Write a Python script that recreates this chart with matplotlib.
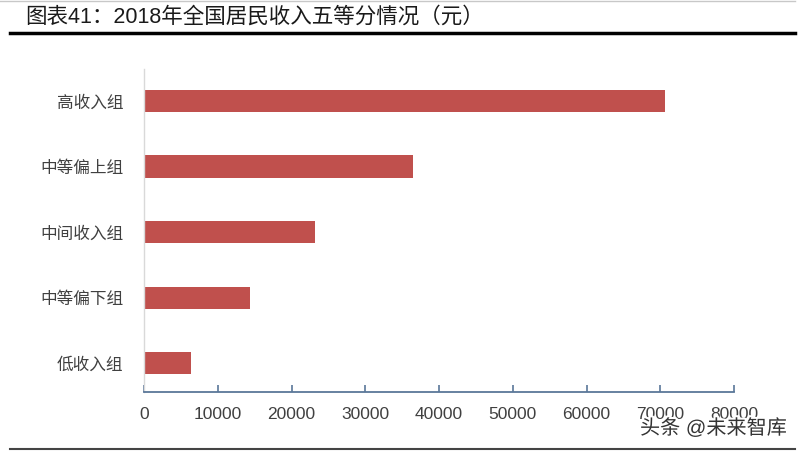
import matplotlib.pyplot as plt
import matplotlib.patheffects as pe
import numpy as np

plt.rcParams['font.family'] = ['Liberation Sans', 'Noto Sans CJK SC', 'DejaVu Sans']

groups = ['低收入组', '中等偏下组', '中间收入组', '中等偏上组', '高收入组']
income = [6440, 14361, 23189, 36471, 70640]
xticks = [0, 10000, 20000, 30000, 40000, 50000, 60000, 70000, 80000]

W, H = 805, 451
fig = plt.figure(figsize=(W / 100, H / 100), dpi=100)
ax = fig.add_axes([144 / W, (H - 392) / H, (734 - 144) / W, (392 - 69) / H])

ind = np.arange(len(groups))
ax.barh(ind, income, height=0.34, color='#c0504d')

ax.set_xlim(0, 80000)
ax.set_ylim(-0.44, 4.49)
ax.set_xticks(xticks)
ax.set_xticklabels([str(v) for v in xticks],
                   family=['Liberation Sans Narrow', 'Liberation Sans'])
ax.set_yticks(ind)
ax.set_yticklabels(groups)

axis_col = '#5a7799'
for s in ['top', 'right']:
    ax.spines[s].set_visible(False)
ax.spines['bottom'].set_color(axis_col)
ax.spines['bottom'].set_linewidth(1.3)
ax.spines['left'].set_color('#d9d9d9')
ax.spines['left'].set_linewidth(1.0)
ax.tick_params(axis='x', direction='in', length=5, width=1.2, color=axis_col,
               labelsize=12.5, labelcolor='#404040', pad=11)
ax.tick_params(axis='y', length=0, labelsize=12, labelcolor='#404040', pad=15)

# title and rules
fig.text(25 / W, 1 - 17 / H, '图表41：2018年全国居民收入五等分情况（元）',
         fontsize=15.5, color='#1a1a1a', va='center', ha='left')
fig.add_artist(plt.Line2D([10 / W, 795 / W], [1 - 33 / H] * 2, color='black', lw=2.5))
fig.add_artist(plt.Line2D([0, 795 / W], [1 - 1 / H] * 2, color='#c8c8c8', lw=1))
fig.add_artist(plt.Line2D([10 / W, 795 / W], [1 - 449 / H] * 2, color='#444444', lw=1.5))

# watermark
fig.text(640 / W, 1 - 428 / H, '头条 @未来智库', fontsize=14.5, color='#333333',
         va='center', ha='left',
         path_effects=[pe.withStroke(linewidth=3, foreground='white')])

fig.savefig('out.png', dpi=100)
